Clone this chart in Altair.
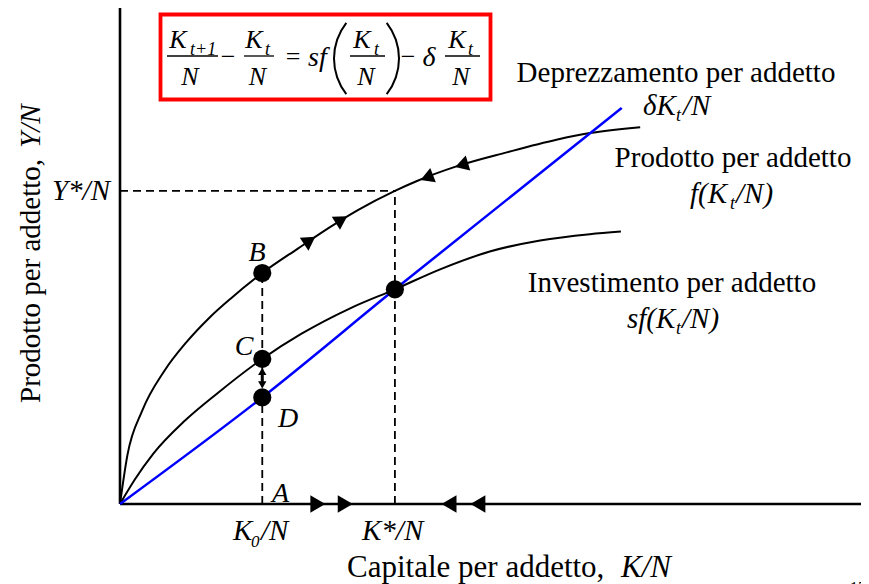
import altair as alt
import pandas as pd

# ---------------- data ----------------
# capital per worker (k) and output per worker f(k)
f_k = [0, 0.1, 0.3, 0.6, 0.9, 1.2, 1.5, 1.92, 2.4, 2.85, 3.21, 3.71, 4.0, 4.54, 5.22, 5.89, 6.34, 7.02]
f_y = [0, 0.66, 1.26, 1.80, 2.19, 2.51, 2.78, 3.12, 3.45, 3.75, 3.97, 4.23, 4.36, 4.56, 4.75, 4.92, 5.01, 5.09]
# investment per worker s f(k)
sf_k = [0, 0.2, 0.45, 0.87, 1.32, 1.92, 2.45, 3.12, 3.71, 4.32, 4.99, 5.67, 6.34, 6.76]
sf_y = [0, 0.33, 0.68, 1.12, 1.50, 1.96, 2.30, 2.65, 2.90, 3.17, 3.41, 3.56, 3.645, 3.68]
# depreciation per worker delta k
dep_k = [0, 1.92, 3.71, 6.77]
dep_y = [0, 1.44, 2.90, 5.35]

# key points
pt_k = [1.92, 1.92, 1.92, 3.71]
pt_y = [3.12, 1.96, 1.44, 2.90]
K0 = 1.92
KSTAR = 3.71
YSTAR = 4.23

# direction arrows on f(k)
arr_k = [2.56, 2.99, 4.14, 4.61]
arr_y = [3.56, 3.84, 4.41, 4.58]
arr_shape = ["triangle-right", "triangle-right", "triangle-left", "triangle-left"]
arr_angle = [326, 328, 339, 343]
# direction arrows on the k axis
ax_arr_k = [2.67, 3.04, 4.44, 4.83]
ax_arr_shape = ["triangle-right", "triangle-right", "triangle-left", "triangle-left"]

# ---------------- helpers ----------------
FONT = "Liberation Serif"
OX, OY = 120, 8  # page position of plot area's top-left corner

xs = alt.Scale(domain=[0, 10], nice=False, zero=False)
ys = alt.Scale(domain=[0, 6.7], nice=False, zero=False)


def X(f):
    return alt.X(f, type="quantitative", scale=xs, axis=None)


def Y(f):
    return alt.Y(f, type="quantitative", scale=ys, axis=None)


def txt(s, px, py, size=29, italic=False, align="left", baseline="alphabetic", angle=0):
    return alt.Chart(pd.DataFrame({"t": [s]})).mark_text(
        x=px - OX, y=py - OY, fontSize=size, font=FONT,
        fontStyle="italic" if italic else "normal",
        align=align, baseline=baseline, angle=angle, color="black"
    ).encode(text="t:N")


layers = []

# axes
layers.append(alt.Chart(pd.DataFrame({"x0": [0], "x1": [10], "y": [0]})).mark_rule(
    color="black", strokeWidth=2.6).encode(x=X("x0"), x2="x1", y=Y("y")))
layers.append(alt.Chart(pd.DataFrame({"x": [0], "y0": [0], "y1": [6.7]})).mark_rule(
    color="black", strokeWidth=2.6).encode(x=X("x"), y=Y("y0"), y2="y1"))

# dashed guide lines
guides = pd.DataFrame({
    "x": [K0, KSTAR, 0], "x2": [K0, KSTAR, KSTAR],
    "y": [0, 0, YSTAR], "y2": [pt_y[0], YSTAR, YSTAR]})
layers.append(alt.Chart(guides).mark_rule(color="black", strokeWidth=1.8, strokeDash=[8, 5]).encode(
    x=X("x"), x2="x2", y=Y("y"), y2="y2"))

# curves
layers.append(alt.Chart(pd.DataFrame({"k": f_k, "y": f_y})).mark_line(
    color="black", strokeWidth=2, interpolate="monotone").encode(x=X("k"), y=Y("y"), order="k:Q"))
layers.append(alt.Chart(pd.DataFrame({"k": sf_k, "y": sf_y})).mark_line(
    color="black", strokeWidth=2, interpolate="monotone").encode(x=X("k"), y=Y("y"), order="k:Q"))
layers.append(alt.Chart(pd.DataFrame({"k": dep_k, "y": dep_y})).mark_line(
    color="#0000ff", strokeWidth=2.5, interpolate="monotone").encode(x=X("k"), y=Y("y"), order="k:Q"))

# arrows on the production curve
layers.append(alt.Chart(pd.DataFrame({"k": arr_k, "y": arr_y, "s": arr_shape, "a": arr_angle})).mark_point(
    filled=True, color="black", opacity=1, size=240).encode(
    x=X("k"), y=Y("y"), shape=alt.Shape("s:N", scale=None), angle=alt.Angle("a:Q", scale=None)))
# arrows on the axis
layers.append(alt.Chart(pd.DataFrame({"k": ax_arr_k, "y": [0] * 4, "s": ax_arr_shape})).mark_point(
    filled=True, color="black", opacity=1, size=300).encode(
    x=X("k"), y=Y("y"), shape=alt.Shape("s:N", scale=None)))

# double arrow between C and D
layers.append(alt.Chart(pd.DataFrame({"k": [K0], "y0": [1.61], "y1": [1.79]})).mark_rule(
    color="black", strokeWidth=3).encode(x=X("k"), y=Y("y0"), y2="y1"))
layers.append(alt.Chart(pd.DataFrame({"k": [K0, K0], "y": [1.79, 1.61],
                                      "s": ["triangle-up", "triangle-down"]})).mark_point(
    filled=True, color="black", opacity=1, size=70).encode(
    x=X("k"), y=Y("y"), shape=alt.Shape("s:N", scale=None)))

# points B, C, D, steady state
layers.append(alt.Chart(pd.DataFrame({"k": pt_k, "y": pt_y})).mark_circle(
    color="black", opacity=1, size=330).encode(x=X("k"), y=Y("y")))

# point labels
layers += [
    txt("B", 257, 261, 28, True, "center"),
    txt("C", 244, 355, 28, True, "center"),
    txt("D", 288, 427, 28, True, "center"),
    txt("A", 272, 502, 28, True, "left"),
]

# axis labels
layers += [
    txt("K", 233, 540, 29, True),
    txt("0", 251, 547, 17, True),
    txt("/N", 261, 540, 29, True),
    txt("K*/N", 362, 540, 29, True),
    txt("Y*/N", 110, 200, 29, True, "right"),
    txt("Capitale per addetto, ", 347, 577, 31),
    txt("K/N", 621, 577, 31, True),
    txt("Prodotto per addetto, ", 40, 403, 29, False, "left", "alphabetic", 270),
    txt("Y/N", 40, 148, 29, True, "left", "alphabetic", 270),
    txt("15", 858, 593, 16, False, "center"),
]

# curve labels
layers += [
    txt("Deprezzamento per addetto", 676, 82, 29, False, "center"),
    txt("δK", 643, 115, 29, True),
    txt("t", 676, 121, 18, True),
    txt("/N", 683, 115, 29, True),
    txt("Prodotto per addetto", 733, 167, 29, False, "center"),
    txt("f(K", 690, 203, 29, True),
    txt("t", 730, 209, 18, True),
    txt("/N)", 736, 203, 29, True),
    txt("Investimento per addetto", 672, 292, 29, False, "center"),
    txt("sf(K", 627, 328, 29, True),
    txt("t", 676, 334, 18, True),
    txt("/N)", 682, 328, 29, True),
]

# equation box
layers.append(alt.Chart(pd.DataFrame({"a": [0]})).mark_rect(
    x=160.5 - OX, x2=490.5 - OX, y=14.5 - OY, y2=99.5 - OY,
    fill="white", stroke="#ff0000", strokeWidth=3.8).encode(opacity=alt.value(1)))

bars = [(167, 218), (244, 274), (350, 385), (445, 480)]
for a, b in bars:
    layers.append(alt.Chart(pd.DataFrame({"a": [0]})).mark_rule(color="black", strokeWidth=1.3).encode(
        x=alt.value(a - OX), x2=alt.value(b - OX), y=alt.value(56 - OY)))

layers += [
    txt("K", 178, 48, 26, True, "center"),
    txt("t+1", 190, 55, 18, True),
    txt("N", 190, 85, 26, True, "center"),
    txt("−", 228, 65, 26, False, "center"),
    txt("K", 254, 48, 26, True, "center"),
    txt("t", 265, 55, 18, True),
    txt("N", 257.5, 85, 26, True, "center"),
    txt("=", 293, 65, 26, False, "center"),
    txt("sf", 308, 66, 28, True),
    txt("K", 362, 48, 26, True, "center"),
    txt("t", 374, 55, 18, True),
    txt("N", 366, 85, 26, True, "center"),
    txt("−", 408, 65, 26, False, "center"),
    txt("δ", 429, 66, 28, True, "center"),
    txt("K", 457, 48, 26, True, "center"),
    txt("t", 468, 55, 18, True),
    txt("N", 461, 85, 26, True, "center"),
]

# big parentheses
layers.append(alt.Chart(pd.DataFrame({"a": [0]})).mark_arc(
    theta=4.049, theta2=5.376, radius=59, radius2=57.0, color="black").encode(
    x=alt.value(392 - OX), y=alt.value(58.5 - OY)))
layers.append(alt.Chart(pd.DataFrame({"a": [0]})).mark_arc(
    theta=0.9076, theta2=2.234, radius=59, radius2=57.0, color="black").encode(
    x=alt.value(341 - OX), y=alt.value(58.5 - OY)))

chart = alt.layer(*layers).properties(
    width=741, height=496,
    autosize=alt.AutoSizeParams(type="none"),
    padding={"left": 112, "top": 0, "right": 0, "bottom": 80},
    background="white",
).configure_view(stroke=None)

chart.save("out.html", embed_options={"renderer": "svg", "actions": False})
